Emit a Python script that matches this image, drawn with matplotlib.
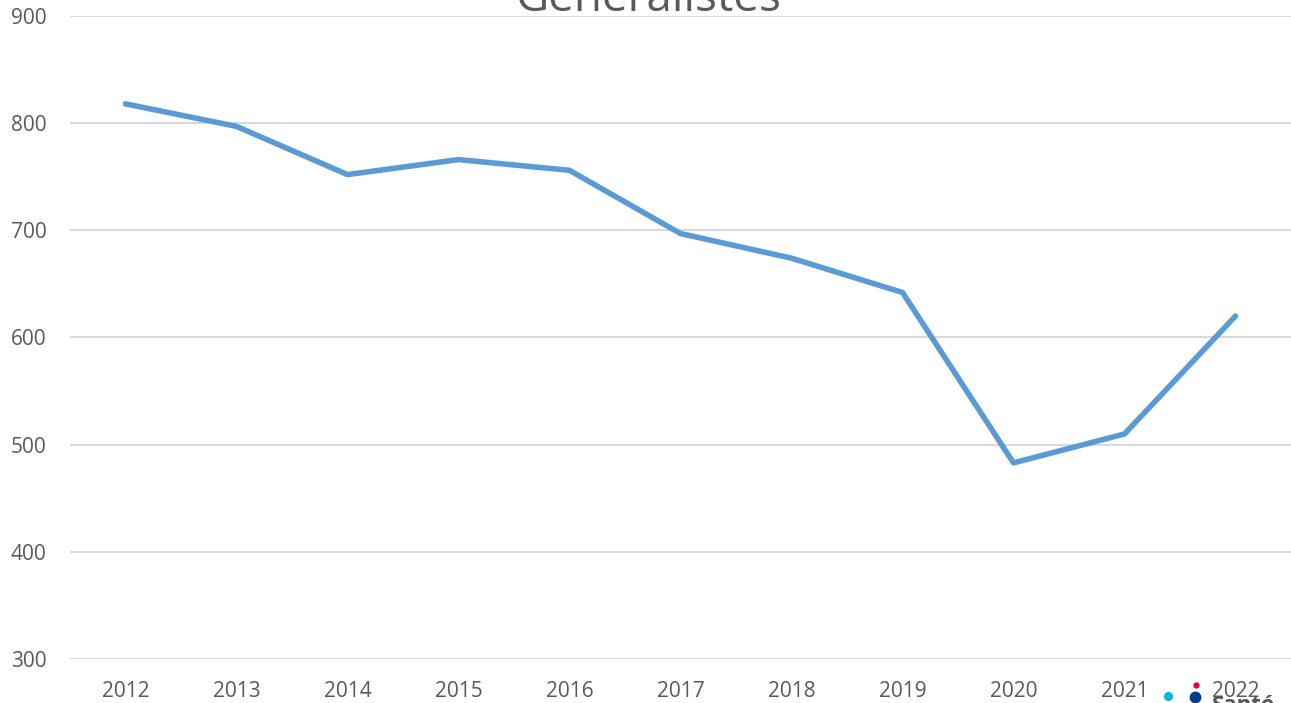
import matplotlib.pyplot as plt
from matplotlib.lines import Line2D

# Généralistes per year
years = ['2012', '2013', '2014', '2015', '2016', '2017', '2018', '2019', '2020', '2021', '2022']
values = [818, 797, 752, 766, 756, 697, 674, 642, 483, 510, 620]
y_ticks = [300, 400, 500, 600, 700, 800, 900]

plt.rcParams['font.family'] = ['Open Sans', 'DejaVu Sans']

fig = plt.figure(figsize=(12.91, 7.03), dpi=100)
ax = fig.add_axes([70 / 1291, 1 - 659 / 703, 1 - 70 / 1291, (659 - 16) / 703])

x = list(range(len(years)))
ax.plot(x, values, color='#5B9BD5', linewidth=4, solid_capstyle='round', zorder=3)

ax.set_xlim(-0.5, len(years) - 0.5)
ax.set_ylim(300, 900)
ax.set_yticks(y_ticks)
ax.set_xticks(x)
ax.set_xticklabels(years)
ax.grid(axis='y', color='#D9D9D9', linewidth=1.5)
ax.set_axisbelow(True)
for s in ax.spines.values():
    s.set_visible(False)
ax.tick_params(length=0, labelsize=15, colors='#595959')
ax.tick_params(axis='y', pad=17)
ax.tick_params(axis='x', pad=16)

# title, cut off at the top of the picture
fig.text(0.502, 1 - 11 / 703, 'Généralistes', ha='center', va='baseline',
         fontsize=33, color='#595959')

# logo fragment in the bottom-right corner
def dot(px, py, size, color):
    fig.add_artist(Line2D([px / 1291], [1 - py / 703], marker='o', markersize=size,
                          color=color, linestyle='none', transform=fig.transFigure))

dot(1168, 696, 5.5, '#00B4E6')
dot(1196, 685, 3.5, '#E4003A')
dot(1195, 697, 7.5, '#003D8F')
fig.text(1212 / 1291, 1 - 711 / 703, 'Santé', ha='left', va='baseline',
         fontsize=16, fontweight='bold', color='#555555')

fig.savefig('out.png', dpi=100)
